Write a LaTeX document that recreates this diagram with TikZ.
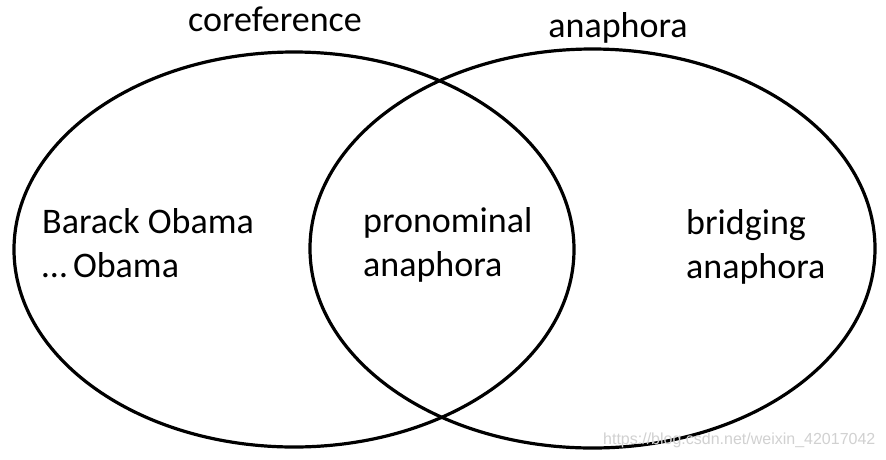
\documentclass[tikz,border=0pt]{standalone}
\usepackage{fontspec}
\setmainfont{Carlito}
\newfontfamily\wmfont{Liberation Sans}
\begin{document}
\begin{tikzpicture}[x=1pt,y=-1pt,
  ring/.style={draw=black,line width=3.2pt},
  lbl/.style={inner sep=0pt,font=\fontsize{36}{44}\selectfont,align=left},
  wm/.style={inner sep=0pt,text=black!18,font=\wmfont\fontsize{16}{18}\selectfont}]
\useasboundingbox[fill=white] (0,0) rectangle (886,459);
\draw[ring] (294,249.5) ellipse [x radius=280,y radius=197.5];
\draw[ring] (592.5,248.5) ellipse [x radius=282.5,y radius=199.5];
\node[lbl,anchor=base] (coref) at (275,31) {coreference};
\node[lbl,anchor=base] (anaph) at (618,37) {anaphora};
\node[lbl,anchor=base west] (obama1) at (42,233) {Barack Obama};
\node[lbl,anchor=base west] (obama2) at (42,277) {…\,Obama};
\node[lbl,anchor=base west] (pron1) at (363,232) {pronominal};
\node[lbl,anchor=base west] (pron2) at (363,276) {anaphora};
\node[lbl,anchor=base west] (brid1) at (686,234) {bridging};
\node[lbl,anchor=base west] (brid2) at (686,278) {anaphora};
\node[wm,anchor=base west] (mark) at (603,444) {https://blog.csdn.net/weixin\_42017042};
\end{tikzpicture}
\end{document}
